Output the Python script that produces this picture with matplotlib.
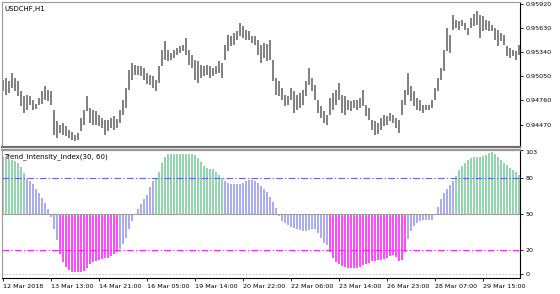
import numpy as np
import matplotlib.pyplot as plt

# USDCHF H1, one bar per two hours; highs/lows as pips above 0.9400
high_pips = [101, 103, 99, 109, 103, 99, 87, 81, 83, 81,
             77, 72, 79, 87, 93, 89, 87, 65, 51, 47,
             49, 45, 41, 38, 35, 37, 55, 65, 81, 67,
             65, 63, 59, 55, 53, 52, 55, 57, 54, 65,
             77, 91, 113, 121, 119, 117, 118, 115, 109, 107,
             105, 101, 117, 137, 147, 137, 133, 137, 139, 141,
             143, 151, 137, 131, 125, 123, 119, 117, 119, 117,
             115, 118, 123, 121, 143, 155, 153, 157, 159, 169,
             165, 161, 159, 154, 153, 149, 143, 145, 144, 149,
             125, 103, 99, 91, 83, 81, 91, 87, 83, 85,
             89, 99, 115, 103, 95, 77, 69, 63, 59, 79,
             85, 89, 97, 83, 81, 77, 75, 77, 76, 79,
             89, 71, 67, 53, 51, 49, 55, 59, 57, 61,
             59, 55, 53, 77, 89, 109, 93, 87, 79, 77,
             71, 70, 71, 77, 91, 103, 115, 137, 163, 155,
             179, 173, 171, 173, 169, 163, 175, 180, 183, 179,
             177, 173, 171, 167, 163, 161, 157, 155, 141, 139,
             137, 135, 143]
low_pips = [87, 83, 85, 91, 87, 81, 69, 61, 65, 71,
            65, 66, 70, 72, 77, 75, 71, 35, 31, 37,
            35, 33, 31, 29, 27, 28, 39, 47, 63, 49,
            47, 46, 45, 43, 35, 39, 43, 41, 43, 49,
            59, 67, 89, 101, 107, 107, 106, 101, 96, 95,
            91, 87, 97, 117, 125, 123, 125, 127, 131, 133,
            135, 131, 119, 115, 101, 97, 103, 105, 107, 103,
            106, 108, 109, 103, 125, 135, 141, 143, 149, 153,
            151, 149, 149, 145, 143, 131, 121, 127, 123, 125,
            99, 83, 81, 77, 69, 71, 77, 61, 65, 67,
            71, 81, 95, 87, 77, 61, 55, 49, 47, 59,
            65, 71, 77, 61, 59, 65, 63, 67, 65, 67,
            69, 57, 53, 41, 35, 36, 41, 45, 47, 51,
            49, 43, 37, 59, 71, 83, 75, 69, 65, 63,
            61, 64, 65, 67, 77, 87, 101, 111, 135, 133,
            161, 163, 161, 165, 161, 155, 163, 165, 167, 151,
            159, 161, 160, 159, 149, 141, 147, 143, 129, 127,
            130, 125, 131]
tii = [97.5, 97, 95.5, 94.5, 93.5, 92, 89, 84, 79, 77,
       75, 71, 67, 63, 59, 54, 47, 37, 28, 17,
       10, 6, 3.5, 2, 1.5, 1.5, 1.5, 2.5, 5, 8,
       10, 11, 12, 12.5, 13, 13.5, 15, 16.5, 18.5, 21,
       25, 30, 37, 44, 50, 54, 58, 62, 66, 72,
       77, 80, 85, 92, 97, 99.5, 100, 100, 100, 100,
       100, 100, 100, 100, 99, 96.5, 93, 90, 88, 87.5,
       87, 85, 82.5, 80, 77.5, 76, 75, 75, 74.5, 75,
       76, 77.5, 78, 78, 77.5, 76, 73, 71, 68, 64,
       60, 55, 48, 44, 42, 40.5, 39, 38, 37, 36.5,
       36, 36, 36.5, 37.5, 37, 34, 30, 26, 24, 18,
       13, 10, 8, 6.5, 5.5, 5, 5, 5, 5, 6,
       7.5, 8.5, 9.5, 10.5, 11, 11.5, 12, 12.5, 13.5, 15,
       16, 14, 10.5, 12, 18, 29, 36, 39.5, 42, 44,
       44.5, 45, 44.5, 45, 50, 56, 62, 67, 71, 74,
       77.5, 81, 86, 89.5, 92.5, 95, 96.5, 97, 97.5, 97.5,
       98, 99, 100.5, 101, 100, 97.5, 95, 92.5, 90.5, 88,
       86, 84.5, 82]
time_labels = ['12 Mar 2018', '13 Mar 13:00', '14 Mar 21:00', '16 Mar 05:00',
               '19 Mar 14:00', '20 Mar 22:00', '22 Mar 06:00', '23 Mar 14:00',
               '26 Mar 23:00', '28 Mar 07:00', '29 Mar 15:00']
price_ticks = [0.95920, 0.95630, 0.95340, 0.95050, 0.94760, 0.94470]
tii_ticks = [103, 80, 50, 20, 0]

plt.rcParams['font.family'] = 'DejaVu Sans'
plt.rcParams['font.size'] = 4.6

high = 0.94 + np.array(high_pips) / 1e4
low = 0.94 + np.array(low_pips) / 1e4
tii = np.array(tii)
x = np.arange(len(high))

fig = plt.figure(figsize=(5.6, 2.94), dpi=100)
ax1 = fig.add_axes([2 / 560, 1 - 147 / 294, 518 / 560, 145 / 294])
ax2 = fig.add_axes([2 / 560, 1 - 278 / 294, 518 / 560, 128 / 294])

# price pane
ax1.vlines(x, low, high, color='#808080', lw=1.4)
ax1.set_xlim(-0.33, len(x) - 0.67)
ax1.set_ylim(0.94201, 0.95944)
ax1.yaxis.tick_right()
ax1.set_yticks(price_ticks)
ax1.set_yticklabels(['%.5f' % p for p in price_ticks])
ax1.set_xticks([])
ax1.text(0.004, 0.975, 'USDCHF,H1', transform=ax1.transAxes, va='top', ha='left', fontsize=5)

# indicator pane
colors = np.where(tii >= 80, '#92d5ae', np.where(tii <= 20, '#ff4cff', '#ababf0'))
ax2.bar(x, tii - 50, bottom=50, width=0.7, color=colors, linewidth=0)
ax2.axhline(50, color='#a0a0a0', lw=0.8)
ax2.axhline(80, color='#6464f0', lw=0.8, dashes=(6, 2, 1.2, 2))
ax2.axhline(20, color='#ff22ff', lw=0.8, dashes=(6, 2, 1.2, 2))
ax2.axhline(0, color='#c8c8c8', lw=0.8, dashes=(1.5, 1.5))
ax2.set_xlim(-0.33, len(x) - 0.67)
ax2.set_ylim(-3.3, 103)
ax2.yaxis.tick_right()
ax2.set_yticks(tii_ticks)
ax2.set_yticklabels([str(t) for t in tii_ticks])
ax2.get_yticklabels()[0].set_va('top')
ax2.set_xticks(np.arange(len(time_labels)) * 16)
ax2.set_xticklabels(time_labels, ha='left')
ax2.text(0.004, 0.975, 'Trend_Intensity_Index(30, 60)', transform=ax2.transAxes,
         va='top', ha='left', fontsize=5)

for ax in (ax1, ax2):
    ax.tick_params(length=2.5, width=0.6, pad=1.5, color='black')
    for s in ('left', 'top'):
        ax.spines[s].set_color('#9a9a9a')
        ax.spines[s].set_linewidth(0.8)
    ax.spines['right'].set_color('black')
    ax.spines['right'].set_linewidth(0.8)
ax1.spines['bottom'].set_color('#707070')
ax1.spines['bottom'].set_linewidth(1.6)
ax2.spines['top'].set_color('#9a9a9a')
ax2.spines['top'].set_linewidth(1.6)
ax2.spines['bottom'].set_color('black')
ax2.spines['bottom'].set_linewidth(0.8)

fig.savefig('out.png', dpi=100)
